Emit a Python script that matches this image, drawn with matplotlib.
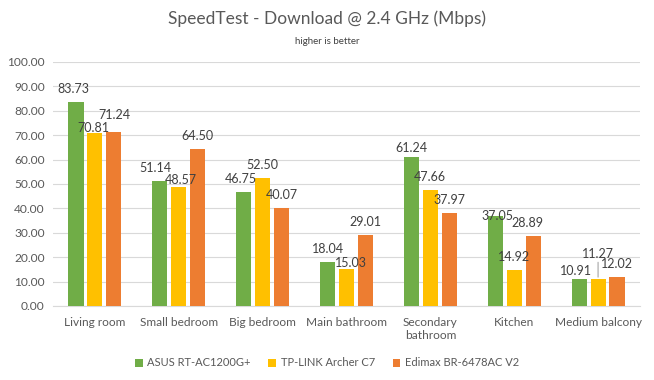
import matplotlib.pyplot as plt
import numpy as np

rooms = ["Living room", "Small bedroom", "Big bedroom", "Main bathroom",
         "Secondary\nbathroom", "Kitchen", "Medium balcony"]
asus = [83.73, 51.14, 46.75, 18.04, 61.24, 37.05, 10.91]
tplink = [70.81, 48.57, 52.50, 15.03, 47.66, 14.92, 11.27]
edimax = [71.24, 64.50, 40.07, 29.01, 37.97, 28.89, 12.02]
names = ["ASUS RT-AC1200G+", "TP-LINK Archer C7", "Edimax BR-6478AC V2"]
colors = ["#70AD47", "#FFC000", "#ED7D31"]

# label nudges in pixels (dx, dy) relative to the default spot above the bar
nudge = {
    (0, 0): (-3, 0), (1, 0): (-2, -8), (2, 0): (1, 4),
    (0, 1): (-4, 0), (1, 1): (2, -6),
    (0, 2): (-3, 0),
    (1, 3): (4, -7),
    (0, 4): (0, -4),
    (0, 5): (2, -13), (2, 5): (-6, 0),
    (0, 6): (-3, -5), (1, 6): (0, 12),
}

plt.rcParams['font.family'] = ['Lato', 'DejaVu Sans']
txt = "#595959"

fig = plt.figure(figsize=(6.54, 3.80), dpi=100)
ax = fig.add_axes([53 / 654, 1 - 306 / 380, 587 / 654, 244 / 380])

x = np.arange(len(rooms))
w = 0.18
step = 0.226
for i, (vals, name, c) in enumerate(zip([asus, tplink, edimax], names, colors)):
    pos = x + (i - 1) * step
    ax.bar(pos, vals, width=w, color=c, label=name, zorder=3)
    for j, v in enumerate(vals):
        dx, dy = nudge.get((i, j), (0, 0))
        arrow = None
        if (i, j) == (1, 6):
            arrow = dict(arrowstyle="-", color="#A6A6A6", lw=0.8, shrinkA=0, shrinkB=1)
        ax.annotate(f"{v:.2f}", xy=(pos[j], v), xytext=(dx * 0.72, (7 + dy) * 0.72),
                    textcoords="offset points", ha="center", va="bottom",
                    fontsize=9, color="#404040", arrowprops=arrow, zorder=5)

ax.set_xlim(-0.5, len(rooms) - 0.5)
ax.set_ylim(0, 100)
ax.set_yticks(np.arange(0, 101, 10))
ax.set_yticklabels([f"{t:.2f}" for t in np.arange(0, 101, 10)])
ax.set_xticks(x)
ax.set_xticklabels(rooms)
ax.tick_params(axis="both", length=0, labelsize=8.6, colors=txt)
ax.tick_params(axis="x", pad=8)
ax.tick_params(axis="y", pad=6)
ax.grid(axis="y", color="#D9D9D9", lw=0.8, zorder=0)
for s in ["top", "right", "left"]:
    ax.spines[s].set_visible(False)
ax.spines["bottom"].set_color("#D9D9D9")

fig.text(0.5, 1 - 19 / 380, "SpeedTest - Download @ 2.4 GHz (Mbps)", ha="center",
         va="center", fontsize=12.5, color=txt)
fig.text(0.5, 1 - 41 / 380, "higher is better", ha="center", va="center",
         fontsize=7, color="#404040")

fig.legend(loc="center", bbox_to_anchor=(0.5, 1 - 363 / 380), ncol=3, frameon=False,
           fontsize=8, labelcolor=txt, handlelength=0.7, handleheight=0.7,
           handletextpad=0.4, columnspacing=1.6)

fig.savefig("out.png", dpi=100)
